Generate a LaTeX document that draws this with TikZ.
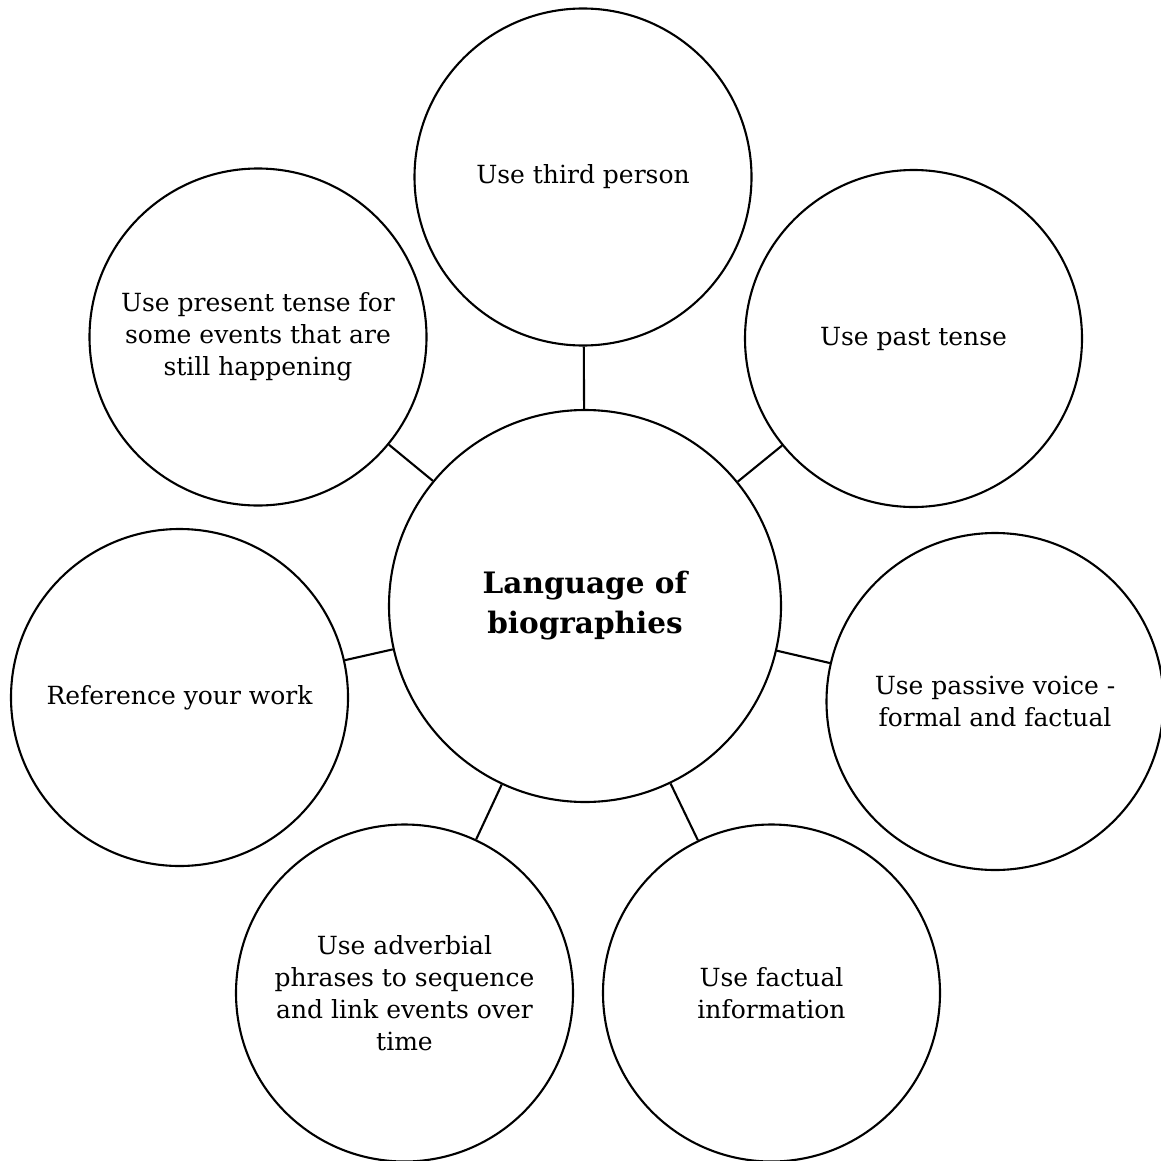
\documentclass[tikz,border=0pt]{standalone}
\usepackage{fontspec}
\setmainfont{DejaVu Serif}
\begin{document}
\begin{tikzpicture}[x=1pt,y=-1pt,
  ring/.style={circle,draw,line width=2.1pt,inner sep=0pt,align=center,
    font=\fontsize{25}{32}\selectfont},
  sat/.style={ring,minimum size=337pt},
  hub/.style={ring,minimum size=392pt,font=\fontsize{29.5}{40}\selectfont\bfseries},
  link/.style={line width=2.1pt}]
\useasboundingbox (0,0) rectangle (1160,1161);

\node[hub] (c) at (585,606) {Language of\\biographies};

\node[sat] (s1) at (583,177) {Use third person};
\node[sat] (s2) at (913.5,338.5) {Use past tense};
\node[sat] (s3) at (995,701.5) {Use passive voice -\\formal and factual};
\node[sat] (s4) at (771.5,993) {Use factual\\information};
\node[sat] (s5) at (404.5,993) {Use adverbial\\phrases to sequence\\and link events over\\time};
\node[sat] (s6) at (179.5,697.5) {Reference your work};
\node[sat] (s7) at (258,337) {Use present tense for\\some events that are\\still happening};

\foreach \s in {s1,s2,s3,s4,s5,s6,s7}
  \draw[link] (c) -- (\s);
\end{tikzpicture}
\end{document}
